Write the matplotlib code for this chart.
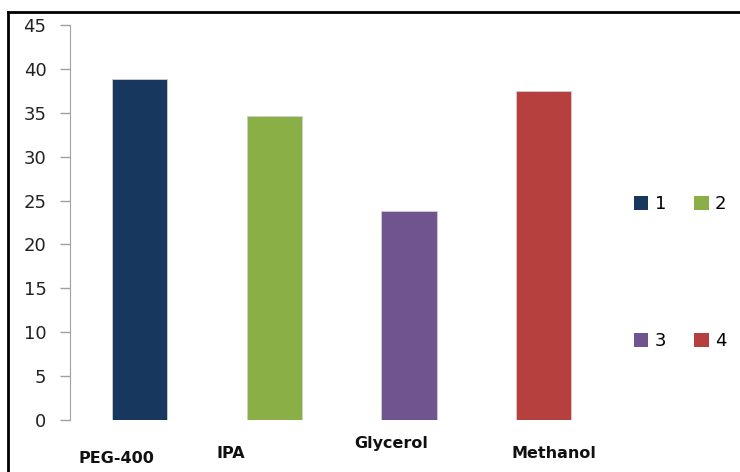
import matplotlib.pyplot as plt
from matplotlib.lines import Line2D
from matplotlib.patches import Patch

# solvent results
solvents = ['PEG-400', 'IPA', 'Glycerol', 'Methanol']
values = [38.9, 34.6, 23.8, 37.5]
series = ['1', '2', '3', '4']
colors = ['#17375E', '#8AAF47', '#70548F', '#B5403E']

# where each category name sits (offset from its bar, pixels below the axis)
label_dx = [-0.17, -0.32, -0.13, 0.08]
label_dy = [38, 33, 23, 33]

fig = plt.figure(figsize=(7.40, 4.72), dpi=100)
ax = fig.add_axes([0.0946, 0.110, 0.734, 0.837])

x = range(len(solvents))
ax.bar(x, values, width=0.41, color=colors, edgecolor='#D0D0D0', linewidth=0.6)

ax.set_xlim(-0.516, 3.516)
ax.set_ylim(0, 45)
ax.set_yticks(range(0, 46, 5))
ax.tick_params(axis='y', direction='out', length=7, width=1, color='#A0A0A0',
               labelsize=13, pad=10, labelcolor='#222222')
ax.set_xticks([])
for s in ['top', 'right', 'bottom']:
    ax.spines[s].set_visible(False)
ax.spines['left'].set_color('#A0A0A0')

trans = ax.get_xaxis_transform()
for i, name in enumerate(solvents):
    ax.annotate(name, xy=(i + label_dx[i], 0), xycoords=trans,
                xytext=(0, -label_dy[i]), textcoords='offset pixels',
                ha='center', va='center', fontsize=11.5, fontweight='bold',
                color='#111111')

# legend: two rows, 1 2 on top and 3 4 below
handles = [Patch(facecolor=c, edgecolor='none') for c in colors]
order = [0, 2, 1, 3]
ax.legend([handles[i] for i in order], [series[i] for i in order],
          ncol=2, frameon=False, loc='center left', bbox_to_anchor=(1.025, 0.373),
          fontsize=13, labelspacing=6.6, handlelength=0.8, handleheight=0.8,
          handletextpad=0.35, columnspacing=1.55, borderaxespad=0)

# frame around the figure (top and left edges)
fig.add_artist(Line2D([8 / 740, 1], [1 - 12 / 472, 1 - 12 / 472],
                      transform=fig.transFigure, color='black', linewidth=2))
fig.add_artist(Line2D([8 / 740, 8 / 740], [0, 1 - 12 / 472],
                      transform=fig.transFigure, color='black', linewidth=2))

fig.savefig('out.png', dpi=100)
